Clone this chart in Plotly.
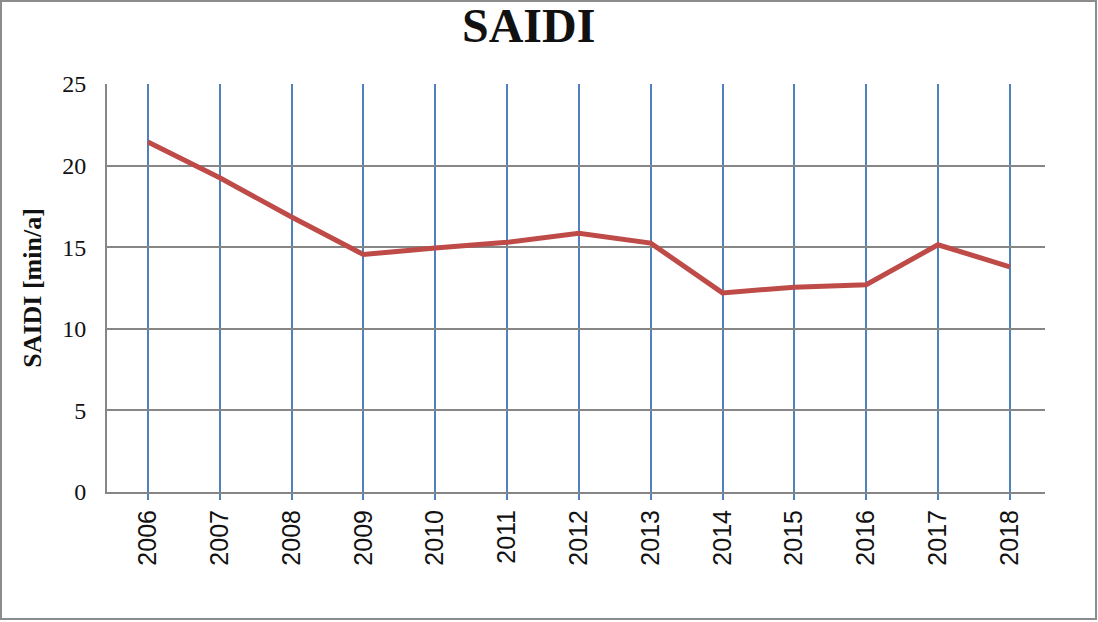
import plotly.graph_objects as go

years = [2006, 2007, 2008, 2009, 2010, 2011, 2012, 2013, 2014, 2015, 2016, 2017, 2018]
saidi = [21.45, 19.25, 16.85, 14.55, 14.95, 15.3, 15.85, 15.25, 12.2, 12.55, 12.7, 15.15, 13.8]
y_ticks = [0, 5, 10, 15, 20, 25]

W, H = 1098, 622
L, R, T, B = 107, 53, 84, 130

fig = go.Figure()
fig.add_trace(go.Scatter(
    x=years, y=saidi, mode="lines",
    line=dict(color="#be4b48", width=5),
    showlegend=False, hoverinfo="x+y",
))

pw = W - L - R
ph = H - T - B

fig.update_layout(
    width=W, height=H,
    margin=dict(l=L, r=R, t=T, b=B),
    paper_bgcolor="white", plot_bgcolor="white",
    xaxis=dict(
        range=[2005.43, 2018.49],
        tickvals=years, ticktext=[str(y) for y in years],
        tickangle=-90,
        showgrid=True, gridcolor="#4f81bd", gridwidth=2,
        ticks="outside", ticklen=6, tickcolor="#4f81bd", tickwidth=2,
        showline=True, linecolor="#868686", linewidth=2,
        tickfont=dict(family="Liberation Sans, Arial", size=25, color="#111"),
        zeroline=False, fixedrange=True,
    ),
    yaxis=dict(
        range=[0, 25],
        tickvals=y_ticks,
        showgrid=True, gridcolor="#868686", gridwidth=2,
        showline=True, linecolor="#868686", linewidth=2,
        ticks="", ticklabelstandoff=14,
        tickfont=dict(family="Liberation Serif, Times New Roman", size=24, color="#111"),
        title=dict(text="<b>SAIDI [min/a]</b>", standoff=13,
                   font=dict(family="Liberation Serif, Times New Roman", size=26, color="#111")),
        zeroline=False, fixedrange=True,
    ),
    annotations=[dict(
        text="<b>SAIDI</b>", xref="paper", yref="paper",
        x=(528 - L) / pw, y=1 + (T - 25) / ph,
        xanchor="center", yanchor="middle", showarrow=False,
        font=dict(family="Liberation Serif, Times New Roman", size=48, color="#111"),
    )],
    shapes=[dict(
        type="rect", xref="paper", yref="paper",
        x0=(1 - L) / pw, x1=(W - 2 - L) / pw,
        y0=-(B - 3) / ph, y1=1 + (T - 1) / ph,
        line=dict(color="#8c8c8c", width=2), layer="below",
    )],
)

fig.write_html("out.html", config={"displayModeBar": False},
               post_script="document.body.style.margin='0';document.body.style.overflow='hidden';")
